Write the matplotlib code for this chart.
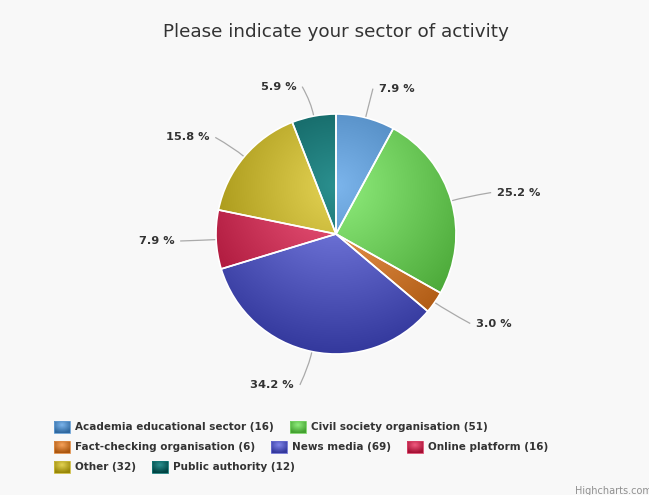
import matplotlib.pyplot as plt
import matplotlib.colors as mcolors
import numpy as np
from matplotlib.patches import Rectangle
from matplotlib.path import Path
from matplotlib.patches import PathPatch

sectors = ['Academia educational sector', 'Civil society organisation',
           'Fact-checking organisation', 'News media', 'Online platform',
           'Other', 'Public authority']
counts = [16, 51, 6, 69, 16, 32, 12]
colors = ['#7cb5ec', '#90ed7d', '#f7a35c', '#8085e9', '#f15c80', '#e4d354', '#2b908f']
title = 'Please indicate your sector of activity'

W, H = 649, 495
BG = '#f8f8f8'
CX, CY, R = 336, H - 234, 120


def darker(c, amount=0.3):
    rgb = np.array(mcolors.to_rgb(c))
    return np.clip(rgb - amount, 0, 1)


def gradient_image(base, t):
    b = np.array(mcolors.to_rgb(base))
    d = darker(base)
    t = np.clip(t, 0, 1)[..., None]
    return b * (1 - t) + d * t


fig = plt.figure(figsize=(W / 100, H / 100), dpi=100, facecolor=BG)
ax = fig.add_axes([0, 0, 1, 1])
ax.set_facecolor(BG)

total = sum(counts)
wedges, _ = ax.pie(counts, colors=colors, startangle=90, counterclock=False,
                   center=(CX, CY), radius=R,
                   wedgeprops=dict(edgecolor='white', linewidth=1.2))
ax.set_xlim(0, W)
ax.set_ylim(0, H)
ax.set_aspect('auto')
ax.axis('off')

# radial shading shared by all slices (centre a bit above the pie centre)
gx, gy, gr = CX, CY + 0.2 * 2 * R, 0.7 * 2 * R
xs = np.linspace(CX - R, CX + R, 300)
ys = np.linspace(CY - R, CY + R, 300)
XX, YY = np.meshgrid(xs, ys)
tmap = np.hypot(XX - gx, YY - gy) / gr
for w, c in zip(wedges, colors):
    img = gradient_image(c, tmap)
    im = ax.imshow(img, extent=(CX - R, CX + R, CY - R, CY + R), origin='lower',
                   zorder=2, interpolation='bilinear')
    im.set_clip_path(w)
    w.set_facecolor('none')
    w.set_zorder(3)

# data labels with curved connectors
dist = 30
start = 0.0
for w, c in zip(wedges, counts):
    mid = (start + c / 2) / total * 2 * np.pi
    start += c
    sx, sy = np.sin(mid), np.cos(mid)
    ly = CY + (R + dist) * sy
    right = sx >= 0
    lx = CX + (1 if right else -1) * np.sqrt(max((R + dist) ** 2 - (ly - CY) ** 2, 0))
    if sy < -0.5:
        ly -= 4
    ex, ey = CX + R * sx, CY + R * sy
    qx, qy = CX + (R + 14) * sx, CY + (R + 14) * sy
    pad = 12 if not right else (6 if sy > 0.8 else 17)
    endx = lx + (pad - 6 if right else -6)
    path = Path([(ex, ey), (qx, qy), (endx, ly)], [Path.MOVETO, Path.CURVE3, Path.CURVE3])
    ax.add_patch(PathPatch(path, fill=False, edgecolor='#aaaaaa', linewidth=0.9, zorder=1))
    ax.text(lx + (pad if right else -pad), ly, f'{100 * c / total:.1f} %',
            ha='left' if right else 'right', va='center', fontsize=8.2,
            fontweight='bold', color='#333333')

ax.text(W / 2 + 11, H - 32, title, ha='center', va='center', fontsize=13.2, color='#333333')

# legend laid out in rows
renderer = fig.canvas.get_renderer()
x0, x, row_y = 54, 54, H - 427
limit = 630
for name, c, col in zip(sectors, counts, colors):
    label = f'{name} ({c})'
    t = ax.text(0, 0, label, fontsize=7.45, fontweight='bold', color='#333333',
                va='center', ha='left')
    tw = t.get_window_extent(renderer).width
    item_w = 16 + 5 + tw
    if x + item_w > limit and x > x0:
        x = x0
        row_y -= 20
    t.set_position((x + 21, row_y))
    sw, sh = 16, 12
    sx_, sy_ = np.meshgrid(np.linspace(0, 1, 20), np.linspace(0, 1, 16))
    st = np.hypot(sx_ - 0.5, (1 - sy_) - 0.3) / 0.7
    ax.imshow(gradient_image(col, st), extent=(x, x + sw, row_y - sh / 2, row_y + sh / 2),
              origin='lower', zorder=2, interpolation='bilinear')
    ax.add_patch(Rectangle((x, row_y - sh / 2), sw, sh, fill=False,
                           edgecolor=darker(col, 0.1), linewidth=0.6, zorder=3))
    x += item_w + 16

ax.set_xlim(0, W)
ax.set_ylim(0, H)
ax.set_aspect('auto')

fig.text(575 / W, 4 / H, 'Highcharts.com', fontsize=7, color='#909090', ha='left', va='center')

fig.savefig('out.png', dpi=100, facecolor=BG)
